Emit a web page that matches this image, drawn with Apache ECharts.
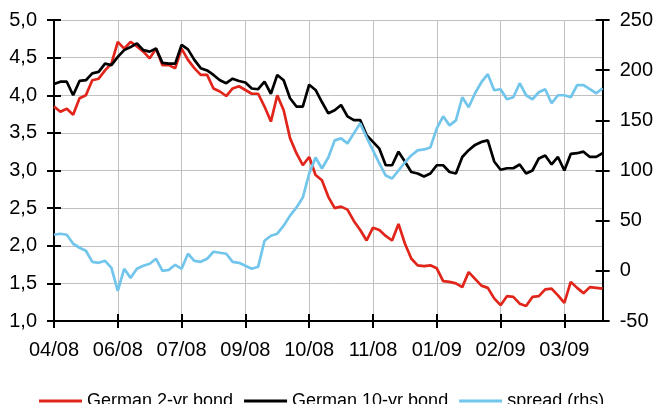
<!DOCTYPE html>
<html>
<head>
<meta charset="utf-8">
<script src="https://cdn.jsdelivr.net/npm/echarts@6/dist/echarts.min.js"></script>
<style>
html,body{margin:0;padding:0;background:#fff;}
#chart{width:656px;height:404px;}
</style>
</head>
<body>
<div id="chart"></div>
<script>
// Tick labels on the x axis (one every LABEL_STEP points)
const tickLabels = ["04/08","06/08","07/08","09/08","10/08","11/08","01/09","02/09","03/09"];
const LABEL_STEP = 10;

// German 2-yr bond yield (%)
const bond2y = [3.85,3.78,3.82,3.74,3.96,4.00,4.20,4.22,4.33,4.42,
  4.71,4.62,4.71,4.65,4.58,4.49,4.62,4.40,4.40,4.36,
  4.62,4.47,4.36,4.27,4.27,4.09,4.05,3.99,4.09,4.12,
  4.07,4.02,4.02,3.85,3.65,4.00,3.80,3.43,3.23,3.07,
  3.18,2.94,2.87,2.65,2.50,2.52,2.48,2.33,2.21,2.07,
  2.24,2.21,2.13,2.07,2.29,2.03,1.83,1.74,1.73,1.74,
  1.70,1.53,1.52,1.50,1.45,1.65,1.56,1.47,1.44,1.30,
  1.21,1.33,1.32,1.23,1.20,1.32,1.33,1.42,1.43,1.34,
  1.24,1.52,1.44,1.37,1.45,1.44,1.43];

// German 10-yr bond yield (%)
const bond10y = [4.15,4.18,4.18,4.00,4.19,4.20,4.29,4.31,4.42,4.40,
  4.51,4.60,4.64,4.69,4.60,4.58,4.62,4.43,4.42,4.42,
  4.67,4.61,4.47,4.36,4.33,4.27,4.20,4.16,4.22,4.19,
  4.17,4.09,4.08,4.18,4.02,4.27,4.20,3.96,3.85,3.85,
  4.14,4.07,3.91,3.76,3.80,3.87,3.72,3.67,3.67,3.47,
  3.38,3.29,3.07,3.07,3.25,3.12,2.98,2.96,2.92,2.96,
  3.07,3.07,2.98,2.96,3.18,3.27,3.34,3.38,3.40,3.12,
  3.01,3.03,3.03,3.08,2.96,3.00,3.16,3.20,3.08,3.18,
  3.00,3.22,3.23,3.25,3.18,3.18,3.23];

// Spread (bp, right axis)
const spread = [36,37,36,27,23,20,9,8,10,3,
  -20,2,-7,2,5,7,12,0,1,6,
  2,17,10,9,12,19,18,17,9,8,
  5,2,4,30,35,37,45,55,63,73,
  97,113,102,113,130,132,127,137,147,133,
  120,107,95,92,100,108,115,120,121,123,
  142,154,145,150,173,163,177,188,196,180,
  181,171,173,187,175,171,178,181,167,175,
  175,173,185,185,181,177,182];

const seriesNames = ["German 2-yr bond","German 10-yr bond","spread (rhs)"];

const categories = bond2y.map((_, i) =>
  (i % LABEL_STEP === 0 && tickLabels[i / LABEL_STEP]) ? tickLabels[i / LABEL_STEP] : String(i));

const FONT = "Liberation Sans";
const atLabel = (idx) => idx % LABEL_STEP === 0;
const tickStyle = {color:"#000", width:2};

const chart = echarts.init(document.getElementById("chart"), null, {renderer:"canvas"});
chart.setOption({
  animation:false,
  backgroundColor:"#fff",
  grid:{left:54, right:52, top:20, bottom:83, containLabel:false},
  legend:{
    data:seriesNames,
    left:34, top:387,
    icon:"rect", itemWidth:43, itemHeight:3, itemGap:11,
    textStyle:{fontFamily:FONT, fontSize:18, color:"#000"}
  },
  xAxis:[{
    type:"category", data:categories, boundaryGap:false, position:"bottom",
    axisLine:{onZero:false, lineStyle:{color:"#000", width:2}},
    axisTick:{show:true, interval:atLabel, length:7, lineStyle:tickStyle},
    axisLabel:{interval:atLabel, margin:19, fontFamily:FONT, fontSize:20, color:"#000",
      formatter:(v, i) => tickLabels[i / LABEL_STEP] || ""},
    splitLine:{show:true, interval:(i) => i % LABEL_STEP === 0 && i > 0, lineStyle:{color:"#c0c0c0", width:1}}
  },{
    type:"category", data:categories, boundaryGap:false, position:"bottom",
    axisLine:{show:false, onZero:false},
    axisTick:{show:true, inside:true, interval:atLabel, length:7, lineStyle:tickStyle},
    axisLabel:{show:false}, splitLine:{show:false}
  }],
  yAxis:[{
    type:"value", position:"left", min:1, max:5, interval:0.5,
    axisLine:{show:true, onZero:false, lineStyle:{color:"#000", width:2}},
    axisTick:{show:true, length:7, lineStyle:tickStyle},
    axisLabel:{margin:17, fontFamily:FONT, fontSize:20, color:"#000",
      formatter:(v) => v.toFixed(1).replace(".", ",")},
    splitLine:{show:true, lineStyle:{color:"#c0c0c0", width:1}}
  },{
    type:"value", position:"right", min:-50, max:250, interval:50,
    axisLine:{show:true, onZero:false, lineStyle:{color:"#000", width:2}},
    axisTick:{show:true, length:7, lineStyle:tickStyle},
    axisLabel:{margin:17, fontFamily:FONT, fontSize:20, color:"#000"},
    splitLine:{show:false}
  },{
    type:"value", position:"left", min:1, max:5, interval:0.5,
    axisLine:{show:false, onZero:false},
    axisTick:{show:true, inside:true, length:7, lineStyle:tickStyle},
    axisLabel:{show:false}, splitLine:{show:false}
  },{
    type:"value", position:"right", min:-50, max:250, interval:50,
    axisLine:{show:false, onZero:false},
    axisTick:{show:true, inside:true, length:7, lineStyle:tickStyle},
    axisLabel:{show:false}, splitLine:{show:false}
  }],
  series:[{
    name:seriesNames[0], type:"line", data:bond2y, xAxisIndex:0, yAxisIndex:0,
    showSymbol:false, symbol:"none", lineStyle:{color:"#e1251b", width:2.7}, itemStyle:{color:"#e1251b"}
  },{
    name:seriesNames[1], type:"line", data:bond10y, xAxisIndex:0, yAxisIndex:0,
    showSymbol:false, symbol:"none", lineStyle:{color:"#000000", width:2.7}, itemStyle:{color:"#000000"}
  },{
    name:seriesNames[2], type:"line", data:spread, xAxisIndex:0, yAxisIndex:1,
    showSymbol:false, symbol:"none", lineStyle:{color:"#72c5eb", width:2.7}, itemStyle:{color:"#72c5eb"}
  }]
});
</script>
</body>
</html>
